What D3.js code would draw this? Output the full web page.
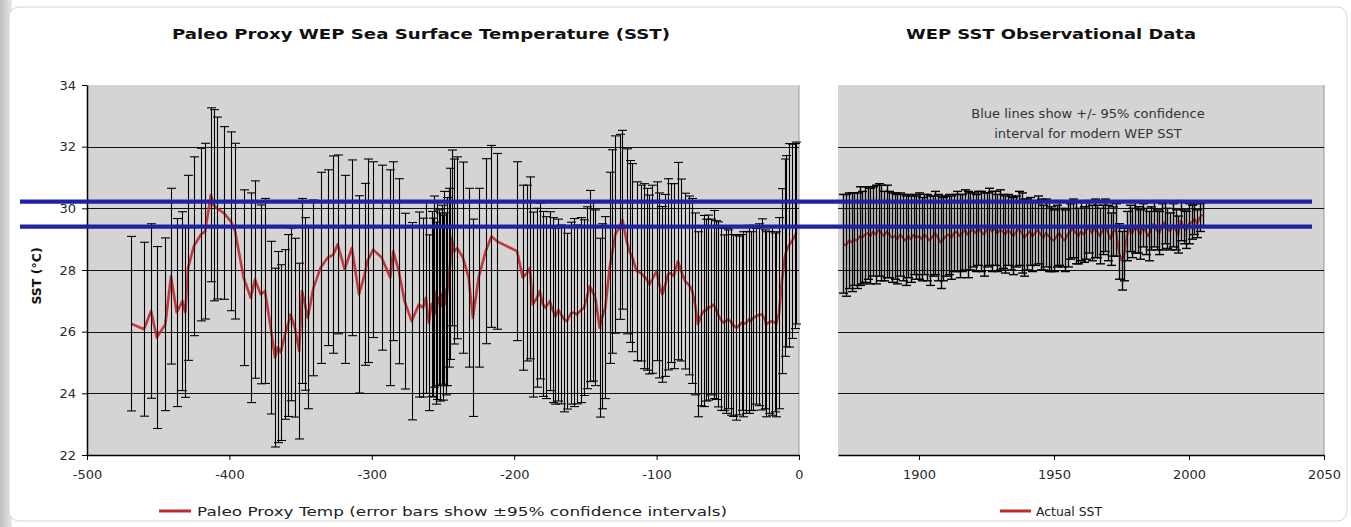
<!DOCTYPE html>
<html>
<head>
<meta charset="utf-8">
<script src="https://cdn.jsdelivr.net/npm/d3@7/dist/d3.min.js"></script>
<style>
  html, body { margin: 0; padding: 0; background: #ffffff; }
  svg { display: block; }
  text { font-family: "DejaVu Sans", Verdana, sans-serif; }
</style>
</head>
<body>
<svg id="chart" width="1351" height="527"></svg>
<script>
// Paleo proxy WEP SST (years relative to present) with ±95% half-widths
const paleoYears = [
  -469,-460,-455,-451,-445,-441,-437,-433,-431,-429,-425,-420,-417,-413,-411,-409,-404,-399,-396,-390,
  -385,-382,-378,-375,-371,-368,-366,-364,-361,-359,-357,-354,-351,-349,-347,-345,-341,-336,-331,-327,
  -324,-319,-314,-309,-305,-303,-299,-293,-287,-285,-281,-277,-272,-267,-264,-262,-260,-258,-257,-256,
  -255,-254,-253,-252,-251,-250,-249,-248,-247,-246,-245,-244,-242,-240,-236,-232,-229,-225,-220,-216,
  -212,-198,-194,-191,-189,-187,-184,-182,-180,-178,-175,-173,-171,-169,-167,-165,-163,-160,-158,-156,
  -153,-151,-149,-147,-145,-143,-140,-138,-136,-133,-131,-129,-126,-124,-121,-119,-117,-114,-111,-109,
  -107,-105,-103,-100,-98,-96,-94,-92,-90,-88,-85,-83,-80,-77,-75,-73,-71,-69,-67,-65,
  -64,-62,-60,-58,-57,-55,-53,-51,-50,-48,-46,-44,-42,-40,-39,-37,-35,-34,-32,-30,
  -28,-26,-24,-23,-21,-19,-17,-16,-14,-12,-10,-9,-7,-5,-3,-2
];
const paleoSST = [
  26.26,26.08,26.67,25.81,26.24,27.80,26.62,26.99,26.62,28.07,28.77,29.15,29.26,30.44,30.10,30.01,29.85,29.58,29.26,27.75,
  27.10,27.69,27.21,27.32,26.13,25.16,25.50,25.32,25.91,26.20,26.56,26.13,25.37,27.32,26.90,26.45,27.42,28.07,28.40,28.50,
  28.83,28.02,28.72,27.21,27.86,28.30,28.66,28.40,27.75,28.61,27.96,26.99,26.34,26.88,26.78,27.10,26.29,26.90,26.78,27.30,
  26.60,27.00,27.10,26.80,27.20,26.78,27.40,26.90,27.30,27.75,28.20,29.04,28.60,28.72,28.40,27.75,26.45,27.75,28.61,29.09,
  28.93,28.61,27.75,27.90,28.07,26.88,27.10,27.32,26.90,26.78,26.99,26.70,26.50,26.70,26.56,26.40,26.34,26.60,26.62,26.56,
  26.70,26.78,27.10,27.48,27.30,27.10,26.13,26.50,26.78,28.07,28.60,29.15,29.40,29.63,28.93,28.60,28.40,27.96,27.90,27.80,
  27.70,27.53,27.70,27.96,27.50,27.21,27.50,27.86,27.90,27.80,28.29,28.00,27.64,27.50,27.32,26.90,26.24,26.50,26.67,26.70,
  26.78,26.80,26.88,26.70,26.56,26.40,26.29,26.35,26.40,26.34,26.20,26.13,26.20,26.30,26.24,26.30,26.40,26.34,26.45,26.50,
  26.55,26.56,26.40,26.24,26.30,26.34,26.30,26.24,26.60,27.64,28.40,28.61,28.80,28.93,29.10,29.20
];
const paleoErr = [
  2.83,2.82,2.83,2.95,2.80,2.85,3.05,2.90,2.75,3.00,2.90,2.80,2.85,2.82,3.10,2.95,2.80,2.90,2.85,2.85,
  3.40,3.20,2.90,3.00,2.80,2.90,3.10,2.85,2.75,2.95,2.80,2.90,2.85,3.00,2.80,2.95,2.85,3.10,2.85,3.20,
  2.90,3.05,2.85,3.20,2.95,3.30,2.85,3.00,3.50,2.90,3.00,2.85,3.20,3.00,2.90,3.10,2.85,3.00,2.90,3.10,
  2.95,3.20,2.85,3.05,2.90,3.00,3.15,2.95,3.05,2.90,3.10,2.85,3.00,2.95,3.10,2.90,3.20,2.90,3.00,2.95,
  2.85,2.90,3.00,2.85,2.95,3.00,2.90,2.85,3.00,2.95,2.90,3.00,2.85,2.95,2.90,3.00,2.85,2.95,3.05,2.90,
  3.00,2.85,2.95,3.10,2.90,2.85,2.90,3.00,2.95,3.10,3.30,3.20,3.00,2.90,3.00,2.95,3.05,2.90,2.85,3.00,
  2.95,2.90,3.05,2.90,3.00,2.85,2.95,3.10,2.90,3.00,3.20,2.95,2.85,2.90,3.00,2.95,3.00,2.90,3.10,2.95,
  3.00,2.85,3.05,2.90,3.00,2.95,2.85,3.00,2.90,3.05,2.95,3.00,2.90,2.85,3.00,2.95,3.05,2.90,3.00,2.85,
  2.95,3.10,2.90,3.00,2.95,3.05,2.90,3.00,3.10,3.00,3.20,3.10,3.30,3.15,3.00,2.95
];

// Observed annual WEP SST, 1872-2005, with ±95% half-widths
const obsYears = d3.range(1872, 2006);
const obsSST = [
  28.85,28.80,28.95,28.90,29.00,28.95,29.10,29.05,29.15,
  29.20,29.10,29.25,29.15,29.30,29.20,29.10,29.25,29.15,29.05,
  29.10,29.00,29.15,29.05,28.95,29.10,29.00,29.15,29.05,29.10,
  29.00,29.15,29.05,28.95,29.10,29.20,29.05,28.90,29.00,29.10,
  29.15,29.05,29.20,29.25,29.10,29.20,29.30,29.15,29.25,29.30,
  29.20,29.35,29.25,29.15,29.30,29.40,29.25,29.35,29.20,29.30,
  29.25,29.15,29.30,29.20,29.10,29.25,29.35,29.20,29.05,29.15,
  29.25,29.10,29.20,29.30,29.15,29.05,29.20,29.10,29.00,28.95,
  29.10,29.20,29.05,28.95,29.15,29.25,29.35,29.20,29.10,29.25,
  29.15,29.30,29.40,29.20,29.35,29.25,29.10,29.30,29.45,29.20,
  29.00,29.25,29.30,28.60,28.30,28.50,29.10,29.35,29.20,29.40,
  29.30,29.15,29.45,29.25,29.10,29.35,29.50,29.30,29.20,29.40,
  29.55,29.35,29.25,29.45,29.30,29.15,29.60,29.40,29.30,29.50,
  29.55,29.65,29.50,29.70,29.80
];
const obsErr = [
  1.60,1.65,1.55,1.60,1.50,1.55,1.60,1.50,1.55,
  1.50,1.55,1.45,1.60,1.50,1.55,1.45,1.50,1.40,1.45,
  1.40,1.45,1.35,1.40,1.45,1.35,1.40,1.30,1.35,1.40,
  1.35,1.30,1.40,1.45,1.30,1.35,1.40,1.50,1.35,1.30,
  1.30,1.35,1.25,1.30,1.35,1.25,1.30,1.40,1.25,1.20,
  1.25,1.20,1.30,1.35,1.20,1.25,1.30,1.20,1.25,1.30,
  1.20,1.25,1.15,1.20,1.25,1.15,1.20,1.30,1.25,1.15,
  1.10,1.15,1.05,1.10,1.15,1.05,1.10,1.15,1.05,1.00,
  1.00,1.05,0.95,1.00,1.05,0.90,0.95,1.00,0.90,0.95,
  0.90,0.95,0.85,0.90,0.95,0.85,0.90,0.80,0.85,0.90,
  0.85,0.80,0.85,0.90,0.95,0.85,0.80,0.75,0.80,0.85,
  0.75,0.80,0.70,0.75,0.80,0.70,0.75,0.65,0.70,0.75,
  0.70,0.65,0.60,0.70,0.65,0.60,0.65,0.55,0.60,0.65,
  0.55,0.50,0.45,0.45,0.40
];

// Modern 95% confidence band (°C)
const modernBand = [29.41, 30.22];

const yTicks = [22, 24, 26, 28, 30, 32, 34];
const gridTicks = [24, 26, 28, 30, 32];
const paleoXTicks = [-500, -400, -300, -200, -100, 0];
const obsXTicks = [1900, 1950, 2000, 2050];

const titles = ["Paleo Proxy WEP Sea Surface Temperature (SST)", "WEP SST Observational Data"];
const legendLabels = ["Paleo Proxy Temp (error bars show \u00b195% confidence intervals)", "Actual SST"];
const noteLines = ["Blue lines show +/- 95% confidence", "interval for modern WEP SST"];

const svg = d3.select("#chart");

// window frame with soft left shadow
const defs = svg.append("defs");
const sh = defs.append("linearGradient").attr("id", "edge").attr("x1", 0).attr("x2", 1);
sh.append("stop").attr("offset", 0).attr("stop-color", "#bdbdbd");
sh.append("stop").attr("offset", 1).attr("stop-color", "#e8e8e8");
svg.append("rect").attr("x", 0).attr("y", 0).attr("width", 12).attr("height", 527).attr("fill", "url(#edge)");
svg.append("rect").attr("x", 9).attr("y", 7).attr("width", 1338).attr("height", 514)
  .attr("rx", 10).attr("fill", "#ffffff").attr("stroke", "#d6d6d6");

const y = d3.scaleLinear().domain([22, 34]).range([455, 85]);
const xP = d3.scaleLinear().domain([-500, 0]).range([87, 799]);
const xO = d3.scaleLinear().domain([1870, 2050]).range([838, 1324]);

const panels = [
  { x: xP, years: paleoYears, sst: paleoSST, err: paleoErr, ticks: paleoXTicks, cap: 4.5, lw: 2.6, bw: 1.1 },
  { x: xO, years: obsYears, sst: obsSST, err: obsErr, ticks: obsXTicks, cap: 4.5, lw: 2.2, bw: 1.4 }
];

panels.forEach((p, i) => {
  const [x0, x1] = p.x.range();
  const g = svg.append("g");
  // plot area
  g.append("rect").attr("x", x0).attr("y", y(34)).attr("width", x1 - x0).attr("height", y(22) - y(34))
    .attr("fill", "#d4d4d4");
  g.append("line").attr("x1", x1).attr("x2", x1).attr("y1", y(34)).attr("y2", y(22))
    .attr("stroke", "#9a9a9a").attr("stroke-width", 1);
  // gridlines
  g.selectAll(".grid").data(gridTicks).join("line")
    .attr("x1", x0).attr("x2", x1)
    .attr("y1", d => Math.round(y(d)) + 0.5).attr("y2", d => Math.round(y(d)) + 0.5)
    .attr("stroke", "#111").attr("stroke-width", 1);

  // SST line
  const line = d3.line().x((d, k) => p.x(p.years[k])).y(d => y(d));
  g.append("path").datum(p.sst).attr("d", line)
    .attr("fill", "none").attr("stroke", "#c3282c").attr("stroke-width", p.lw)
    .attr("stroke-opacity", 0.9).attr("stroke-linejoin", "round");

  // error bars
  const bars = g.append("g").attr("stroke", "#000").attr("stroke-width", p.bw);
  p.sst.forEach((v, k) => {
    const cx = Math.round(p.x(p.years[k])) + 0.5;
    const yt = y(v + p.err[k]), yb = y(v - p.err[k]);
    bars.append("line").attr("x1", cx).attr("x2", cx).attr("y1", yt).attr("y2", yb);
    bars.append("line").attr("x1", cx - p.cap).attr("x2", cx + p.cap).attr("y1", yt).attr("y2", yt);
    bars.append("line").attr("x1", cx - p.cap).attr("x2", cx + p.cap).attr("y1", yb).attr("y2", yb);
  });

  // x axis
  const ax = svg.append("g").attr("transform", `translate(0,${y(22)})`)
    .call(d3.axisBottom(p.x).tickValues(p.ticks).tickSize(5).tickSizeOuter(0).tickFormat(d3.format("d")));
  ax.select(".domain").attr("stroke", "#000").attr("stroke-width", 1.5);
  ax.selectAll(".tick line").attr("stroke", "#000");
  ax.selectAll(".tick text").attr("font-size", 13).attr("fill", "#2a2a2a").attr("dy", "1.25em")
    .text(d => d < 0 ? "-" + Math.abs(d) : d);
});

// y axis on the paleo panel
const ay = svg.append("g").attr("transform", `translate(${xP.range()[0]},0)`)
  .call(d3.axisLeft(y).tickValues(yTicks).tickSize(5).tickSizeOuter(0));
ay.select(".domain").attr("stroke", "#000").attr("stroke-width", 1.5);
ay.selectAll(".tick line").attr("stroke", "#000");
ay.selectAll(".tick text").attr("font-size", 13).attr("fill", "#2a2a2a").attr("x", -11);

svg.append("text").attr("transform", `translate(41,${(y(22) + y(34)) / 2 + 6}) rotate(-90)`)
  .attr("text-anchor", "middle").attr("font-size", 12.5).attr("font-weight", "bold").attr("fill", "#111")
  .text("SST (\u00b0C)");

// modern confidence band lines
svg.selectAll(".band").data(modernBand).join("line")
  .attr("x1", 20).attr("x2", 1312)
  .attr("y1", d => y(d)).attr("y2", d => y(d))
  .attr("stroke", "#1e22a6").attr("stroke-width", 4.2);

// titles
[[421, 498], [1051, 290]].forEach(([cx, w], i) => {
  svg.append("text").attr("x", cx).attr("y", 39).attr("text-anchor", "middle")
    .attr("font-size", 14.5).attr("font-weight", "bold").attr("fill", "#111")
    .attr("textLength", w).attr("lengthAdjust", "spacingAndGlyphs").text(titles[i]);
});

// note inside the observational panel
noteLines.forEach((t, i) => {
  svg.append("text").attr("x", 1088).attr("y", 118 + i * 20).attr("text-anchor", "middle")
    .attr("font-size", 13).attr("fill", "#333").text(t);
});

// legends
[[159, 191, 197, 530], [1000, 1031, 1036, 66]].forEach(([l0, l1, tx, w], i) => {
  svg.append("line").attr("x1", l0).attr("x2", l1).attr("y1", 511).attr("y2", 511)
    .attr("stroke", "#c3282c").attr("stroke-width", 3);
  svg.append("text").attr("x", tx).attr("y", 516).attr("font-size", 13).attr("fill", "#222")
    .attr("textLength", w).attr("lengthAdjust", "spacingAndGlyphs").text(legendLabels[i]);
});
</script>
</body>
</html>
